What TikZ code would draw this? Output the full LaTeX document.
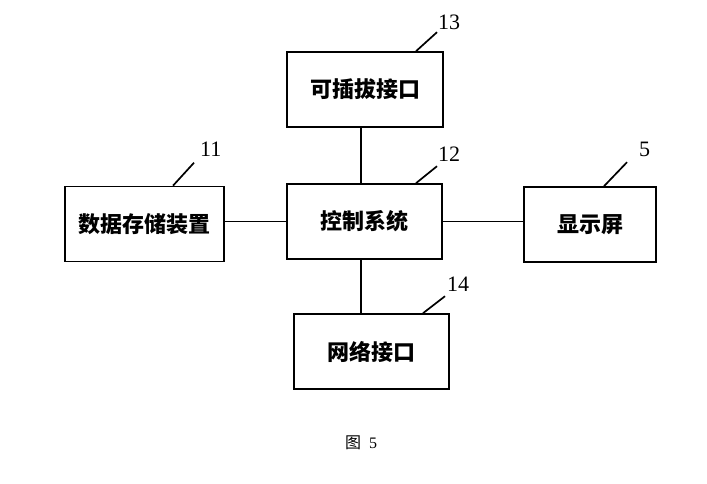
\documentclass[tikz,border=0pt]{standalone}
\usepackage{fontspec}
\setmainfont{Liberation Serif}
\newfontfamily\cjk{Noto Sans CJK SC}
\usetikzlibrary{positioning}
\tikzstyle{unit}=[draw,line width=1.6pt,minimum height=75pt,inner sep=0pt,font=\cjk\bfseries\fontsize{22}{26}\selectfont]
\tikzstyle{link} = [draw,line width=1.6pt]
\tikzstyle{leader} = [draw,line width=1.7pt]
\tikzstyle{refnum} = [anchor=south west,inner sep=0pt,font=\fontsize{22}{24}\selectfont]

\begin{document}
\begin{tikzpicture}[x=1pt,y=-1pt]
	\useasboundingbox (0,0) rectangle (707,483);
	% First we draw the units
	\foreach \pos/\name/\boxw/\txt in {{(365,89.5)/b13/156/可插拔接口}, {(144.5,224)/b11/159/数据存储装置},
		{(364.5,221.5)/b12/155/控制系统}, {(590,224.5)/b5/132/显示屏}, {(371.5,351.5)/b14/155/网络接口}}
	\node[unit,minimum width=\boxw pt] (\name) at \pos {\txt};

	% Connect units with lines
	\path[link] ([xshift=-3.5pt]b12.north) -- ([xshift=-3.5pt]b12.north |- b13.south);
	\path[link] ([xshift=-3.5pt]b12.south) -- ([xshift=-3.5pt]b12.south |- b14.north);
	\path[link] (b12.west) -- (b12.west -| b11.east);
	\path[link] (b12.east) -- (b12.east -| b5.west);

	% Reference numbers and their leaders
	\foreach \name/\num/\pos in {b13/13/{(438,30)}, b11/11/{(200,157)}, b12/12/{(438,162)}, b5/5/{(639,157)}, b14/14/{(447,292)}}
	\node[refnum] (n\name) at \pos {\num};

	\foreach \name/\shift/\dx/\dy in {b13/51/21/-19, b11/28.5/21/-23, b12/51.5/21/-17, b5/14/23/-24, b14/51.5/22/-17}
	\path[leader] ([xshift=\shift pt]\name.north) -- +(\dx,\dy);

	\node[font=\fontsize{16}{18}\selectfont] (cap) at (361,443) {{\cjk 图}\enspace5};
\end{tikzpicture}
\end{document}
